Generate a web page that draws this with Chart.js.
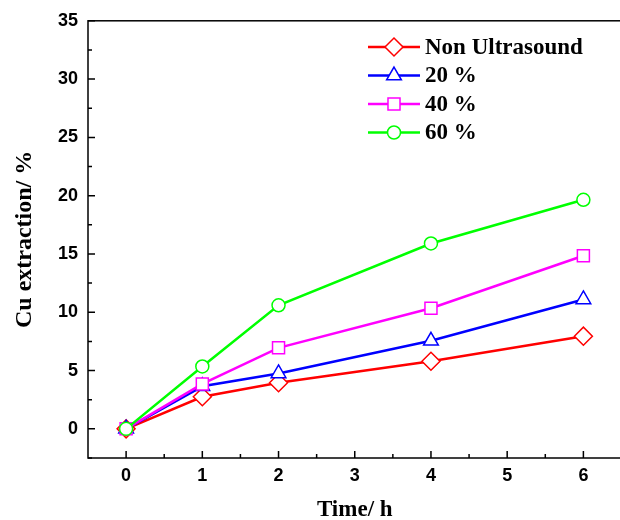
<!DOCTYPE html>
<html>
<head>
<meta charset="utf-8">
<script src="https://cdn.jsdelivr.net/npm/chart.js@4.4.0/dist/chart.umd.min.js"></script>
<style>
  html, body { margin: 0; padding: 0; background: #fff; }
  #wrap { position: relative; width: 620px; height: 520px; overflow: hidden; }
  #cu { display: block; position: absolute; left: 0; top: 0; }
</style>
</head>
<body>
<div id="wrap"><canvas id="cu" width="632" height="520"></canvas></div>
<script>
// time in hours
const times = [0, 1, 2, 4, 6];
const nonUltrasound = [0, 2.75, 3.95, 5.8, 7.95];
const us20 = [0, 3.65, 4.75, 7.55, 11.1];
const us40 = [0, 3.85, 6.95, 10.35, 14.85];
const us60 = [0, 5.35, 10.6, 15.9, 19.65];

const seriesNames = ["Non Ultrasound", "20 %", "40 %", "60 %"];
const xTicks = [0, 1, 2, 3, 4, 5, 6];
const yTicks = [0, 5, 10, 15, 20, 25, 30, 35];

const toPoints = (vals) => vals.map((v, i) => ({ x: times[i], y: v }));

const mkSet = (label, vals, color, style, radius, order) => ({
  label: label,
  data: toPoints(vals),
  borderColor: color,
  backgroundColor: "#ffffff",
  borderWidth: 2.5,
  pointStyle: style,
  pointRadius: radius,
  pointBorderWidth: 1.5,
  pointBorderColor: color,
  pointBackgroundColor: "#ffffff",
  order: order,
});

// frame, inward ticks and the legend box
const framePlugin = {
  id: "frame",
  afterDraw(chart) {
    const ctx = chart.ctx;
    const a = chart.chartArea;
    const xs = chart.scales.x;
    const ys = chart.scales.y;
    ctx.save();
    ctx.strokeStyle = "#000";
    ctx.lineWidth = 1.5;
    ctx.strokeRect(a.left, a.top, a.right - a.left, a.bottom - a.top);

    ctx.beginPath();
    xTicks.forEach((t) => {
      const px = xs.getPixelForValue(t);
      ctx.moveTo(px, a.bottom); ctx.lineTo(px, a.bottom - 7);
      const mx = xs.getPixelForValue(t + 0.5);
      if (t < 6) { ctx.moveTo(mx, a.bottom); ctx.lineTo(mx, a.bottom - 4); }
    });
    yTicks.forEach((t) => {
      const py = ys.getPixelForValue(t);
      ctx.moveTo(a.left, py); ctx.lineTo(a.left + 7, py);
      const my = ys.getPixelForValue(t - 2.5);
      ctx.moveTo(a.left, my); ctx.lineTo(a.left + 4, my);
    });
    ctx.stroke();

    // legend
    const sets = chart.data.datasets;
    const lx = 368, ly = 47, rowH = 28.5;
    ctx.font = "bold 23px 'Liberation Serif'";
    ctx.textBaseline = "middle";
    ctx.fillStyle = "#000";
    seriesNames.forEach((name, i) => {
      const ds = sets[i];
      const y = ly + i * rowH;
      ctx.strokeStyle = ds.borderColor;
      ctx.lineWidth = 2.5;
      ctx.beginPath();
      ctx.moveTo(lx, y); ctx.lineTo(lx + 52, y);
      ctx.stroke();
      ctx.lineWidth = 1.5;
      ctx.fillStyle = "#fff";
      Chart.helpers.drawPoint(ctx, {
        pointStyle: ds.pointStyle, radius: ds.pointRadius, rotation: 0, borderWidth: 1.5,
      }, lx + 26, y);
      ctx.fillStyle = "#000";
      ctx.fillText(name, lx + 57, y + 1);
    });
    ctx.restore();
  },
};

new Chart(document.getElementById("cu"), {
  type: "line",
  data: {
    datasets: [
      mkSet(seriesNames[0], nonUltrasound, "#ff0000", "rectRot", 9, 3),
      mkSet(seriesNames[1], us20, "#0000ff", "triangle", 8.5, 2),
      mkSet(seriesNames[2], us40, "#ff00ff", "rect", 8.5, 1),
      mkSet(seriesNames[3], us60, "#00ff00", "circle", 6.5, 0),
    ],
  },
  options: {
    responsive: false,
    animation: false,
    layout: { padding: { top: 20, right: 1.5, left: 0, bottom: 0 } },
    plugins: { legend: { display: false }, tooltip: { enabled: false } },
    scales: {
      x: {
        type: "linear",
        min: -0.5,
        max: 6.5,
        afterBuildTicks: (s) => { s.ticks = xTicks.map((v) => ({ value: v })); },
        afterFit: (s) => { s.height = 62; },
        grid: { display: false, drawTicks: false },
        border: { display: false },
        ticks: { color: "#000", padding: 7, font: { family: "'Liberation Sans'", size: 18, weight: "bold" } },
        title: {
          display: true, text: "Time/ h", color: "#000",
          padding: { top: 0, bottom: -4 },
          font: { family: "'Liberation Serif'", size: 23, weight: "bold" },
        },
      },
      y: {
        type: "linear",
        min: -2.5,
        max: 35,
        afterBuildTicks: (s) => { s.ticks = yTicks.map((v) => ({ value: v })); },
        afterFit: (s) => { s.width = 88; },
        grid: { display: false, drawTicks: false },
        border: { display: false },
        ticks: { color: "#000", padding: 10, font: { family: "'Liberation Sans'", size: 18, weight: "bold" } },
        title: {
          display: true, text: "Cu extraction/ %", color: "#000",
          padding: { top: 10, bottom: 0 },
          font: { family: "'Liberation Serif'", size: 24, weight: "bold" },
        },
      },
    },
  },
  plugins: [framePlugin],
});
</script>
</body>
</html>
